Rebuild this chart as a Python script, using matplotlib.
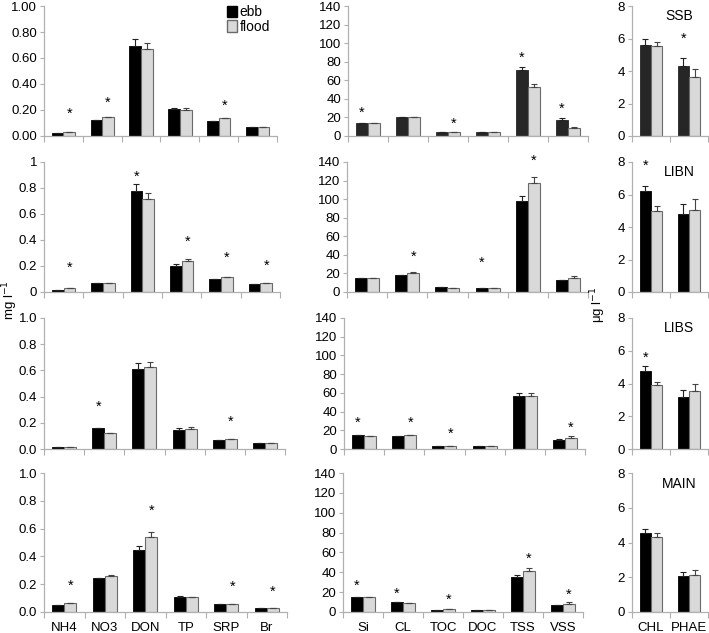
import matplotlib
matplotlib.use("Agg")
import matplotlib.pyplot as plt
import numpy as np
from matplotlib.ticker import FormatStrFormatter, FixedLocator

plt.rcParams['font.family'] = ['Liberation Sans', 'DejaVu Sans']

sites = ['SSB', 'LIBN', 'LIBS', 'MAIN']
nut_cats = ['NH4', 'NO3', 'DON', 'TP', 'SRP', 'Br']
sol_cats = ['Si', 'CL', 'TOC', 'DOC', 'TSS', 'VSS']
pig_cats = ['CHL', 'PHAE']

# nutrients (mg l-1), one list per site
nut_ebb = [[0.020, 0.123, 0.695, 0.205, 0.118, 0.067],
           [0.018, 0.072, 0.777, 0.197, 0.097, 0.064],
           [0.015, 0.163, 0.611, 0.148, 0.069, 0.043],
           [0.050, 0.242, 0.445, 0.108, 0.057, 0.026]]
nut_flood = [[0.033, 0.149, 0.667, 0.203, 0.136, 0.067],
             [0.033, 0.072, 0.713, 0.236, 0.113, 0.067],
             [0.015, 0.122, 0.623, 0.153, 0.074, 0.043],
             [0.067, 0.261, 0.541, 0.105, 0.060, 0.029]]
nut_ebb_err = [[0, 0, 0.050, 0.013, 0, 0],
               [0, 0, 0.051, 0.016, 0, 0],
               [0, 0, 0.045, 0.010, 0, 0],
               [0, 0.003, 0.033, 0.004, 0, 0]]
nut_flood_err = [[0, 0, 0.046, 0.015, 0, 0],
                 [0, 0, 0.049, 0.015, 0, 0],
                 [0, 0, 0.044, 0.012, 0, 0],
                 [0, 0.004, 0.038, 0.004, 0, 0]]
nut_star = [[0.17, 0.256, None, None, 0.23, None],
            [0.19, None, 0.89, 0.39, 0.264, 0.205],
            [None, 0.326, None, None, 0.206, None],
            [0.187, None, 0.725, None, 0.182, 0.144]]

# solids / carbon
sol_ebb = [[14.4, 20.5, 4.3, 4.3, 70.7, 17.2],
           [15.0, 18.6, 5.0, 4.3, 97.6, 12.9],
           [14.5, 13.5, 3.3, 3.3, 56.7, 9.8],
           [15.1, 9.7, 2.3, 2.3, 35.2, 6.7]]
sol_flood = [[14.4, 20.8, 4.7, 3.9, 52.8, 8.6],
             [15.2, 20.7, 4.8, 4.3, 117.7, 14.7],
             [14.2, 14.9, 3.6, 3.3, 56.7, 12.0],
             [15.1, 9.4, 2.7, 2.3, 41.6, 8.4]]
sol_ebb_err = [[0, 0, 0, 0, 4.0, 2.2],
               [0, 0, 0, 0, 5.4, 0],
               [0, 0, 0, 0, 3.3, 0.8],
               [0, 0, 0, 0, 2.1, 0.5]]
sol_flood_err = [[0, 0, 0, 0, 2.8, 0.7],
                 [0, 0.6, 0, 0, 6.3, 2.5],
                 [0, 0, 0, 0, 3.3, 2.2],
                 [0, 0, 0, 0, 2.7, 1.5]]
sol_star = [[25.1, None, 13.3, None, 84.4, 29.0],
            [None, 37.7, None, 31.0, 141.0, None],
            [28.0, 28.0, 16.7, None, None, 22.6],
            [26.5, 18.1, 12.4, None, 53.7, 17.4]]

# pigments (ug l-1)
pig_ebb = [[5.62, 4.30], [6.20, 4.83], [4.78, 3.20], [4.52, 2.05]]
pig_flood = [[5.51, 3.62], [4.98, 5.05], [3.90, 3.55], [4.30, 2.12]]
pig_ebb_err = [[0.33, 0.52], [0.33, 0.60], [0.30, 0.40], [0.27, 0.25]]
pig_flood_err = [[0.30, 0.50], [0.30, 0.65], [0.21, 0.45], [0.26, 0.28]]
pig_star = [[None, 5.96], [7.75, None], [5.6, None], [None, None]]

W, H = 709, 633
fig = plt.figure(figsize=(W / 100, H / 100), dpi=100)

rows_px = [(6, 136), (162, 292), (318, 449), (473, 612)]
left_px = [(44, 277), (44, 280), (44, 285), (44, 287)]
mid_px = [(348, 588), (347, 588), (344, 585), (343, 583)]
right_px = (632, 708)

spine_c = '#b0b0b0'
flood_c = '#d9d9d9'
flood_edge = '#6a6a6a'
fs = 9.5


def make_ax(x0, x1, y0, y1):
    return fig.add_axes([x0 / W, 1 - y1 / H, (x1 - x0) / W, (y1 - y0) / H])


def draw(ax, cats, ebb, flood, e_err, f_err, stars, ymax, step, fmt, ebbcol, bottom):
    n = len(cats)
    x = np.arange(n)
    bw = 0.3
    ax.bar(x - bw / 2, ebb, bw, color=ebbcol, edgecolor=ebbcol, linewidth=0.6, zorder=2)
    ax.bar(x + bw / 2, flood, bw, color=flood_c, edgecolor=flood_edge, linewidth=0.8, zorder=2)
    ee = np.array(e_err, dtype=float)
    fe = np.array(f_err, dtype=float)
    ax.errorbar(x - bw / 2, ebb, yerr=[np.zeros(n), ee], fmt='none', ecolor='#222222',
                elinewidth=0.8, capsize=2.5, capthick=0.8, zorder=3)
    ax.errorbar(x + bw / 2, flood, yerr=[np.zeros(n), fe], fmt='none', ecolor='#444444',
                elinewidth=0.8, capsize=2.5, capthick=0.8, zorder=3)
    for i, s in enumerate(stars):
        if s is None:
            continue
        sx = x[i] - bw / 2 if ebb[i] >= flood[i] else x[i] + bw / 2
        ax.text(sx, s, '*', ha='center', va='center', fontsize=10.5, clip_on=False)
    ax.set_xlim(-0.5, n - 0.5)
    ax.set_ylim(0, ymax)
    ax.set_yticks(np.arange(0, ymax + step / 2, step))
    ax.yaxis.set_major_formatter(fmt)
    ax.xaxis.set_major_locator(FixedLocator(np.arange(n + 1) - 0.5))
    ax.xaxis.set_minor_locator(FixedLocator(x))
    ax.tick_params(axis='x', which='major', length=4, color=spine_c, labelbottom=False)
    ax.tick_params(axis='x', which='minor', length=0, labelsize=fs, pad=7)
    if bottom:
        ax.set_xticklabels(cats, minor=True)
    else:
        ax.set_xticklabels([], minor=True)
    ax.tick_params(axis='y', length=3, color=spine_c, labelsize=fs, pad=2)
    for sp in ['top', 'right']:
        ax.spines[sp].set_visible(False)
    for sp in ['left', 'bottom']:
        ax.spines[sp].set_color(spine_c)
        ax.spines[sp].set_linewidth(0.9)
    ax.patch.set_alpha(0)


left_fmt = ['%.2f', '%g', '%.1f', '%.1f']
for r in range(4):
    y0, y1 = rows_px[r]
    bottom = r == 3
    ax = make_ax(left_px[r][0], left_px[r][1], y0, y1)
    draw(ax, nut_cats, nut_ebb[r], nut_flood[r], nut_ebb_err[r], nut_flood_err[r],
         nut_star[r], 1.0, 0.2, FormatStrFormatter(left_fmt[r]), '#000000', bottom)
    if r == 0:
        h1 = plt.Rectangle((0, 0), 1, 1, fc='#000000', ec='#000000')
        h2 = plt.Rectangle((0, 0), 1, 1, fc=flood_c, ec=flood_edge)
        ax.legend([h1, h2], ['ebb', 'flood'], loc='upper right', bbox_to_anchor=(1.0, 1.06),
                  frameon=False, fontsize=fs + 0.5, handlelength=0.7, handleheight=0.9,
                  handletextpad=0.2, labelspacing=0.05, borderaxespad=0.1)

    dark = '#262626' if r == 0 else '#000000'
    ax = make_ax(mid_px[r][0], mid_px[r][1], y0, y1)
    draw(ax, sol_cats, sol_ebb[r], sol_flood[r], sol_ebb_err[r], sol_flood_err[r],
         sol_star[r], 140, 20, FormatStrFormatter('%d'), dark, bottom)

    ax = make_ax(right_px[0], right_px[1], y0, y1)
    draw(ax, pig_cats, pig_ebb[r], pig_flood[r], pig_ebb_err[r], pig_flood_err[r],
         pig_star[r], 8, 2, FormatStrFormatter('%d'), dark, bottom)
    ax.text(0.62, 0.92, sites[r], transform=ax.transAxes, ha='center', va='center',
            fontsize=fs + 0.5)

fig.text(10 / W, 1 - 300 / H, 'mg l$^{-1}$', rotation=90, ha='center', va='center', fontsize=fs)
fig.text(598 / W, 1 - 305 / H, 'μg l$^{-1}$', rotation=90, ha='center', va='center', fontsize=fs)

fig.savefig('out.png', dpi=100)
